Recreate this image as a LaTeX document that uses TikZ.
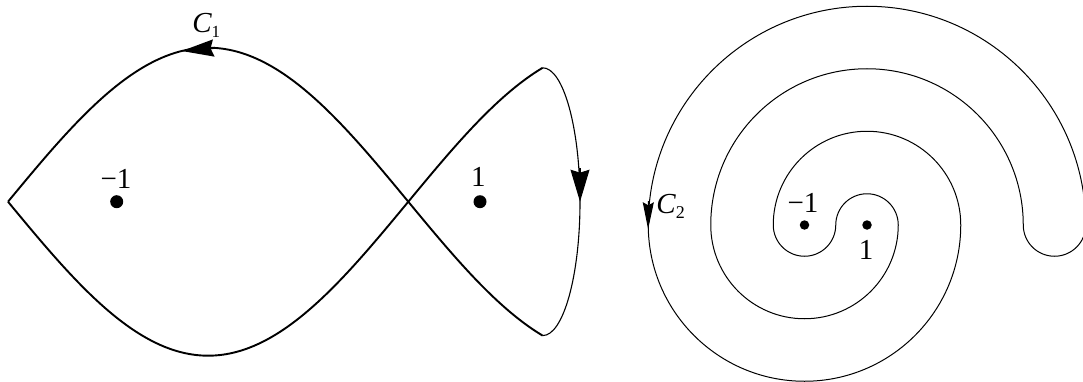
\documentclass[tikz,border=0pt]{standalone}
\usepackage{fontspec}
\setmainfont{Liberation Serif}
\usetikzlibrary{arrows.meta}
\begin{document}
\begin{tikzpicture}[x=1pt,y=1pt,
  thickline/.style={line width=1.9pt, line join=round},
  thinline/.style={line width=1.1pt},
  spiralline/.style={line width=1pt},
  bigtip/.style={-{Stealth[length=32pt,width=17pt,inset=3pt]}},
  righttip/.style={-{Stealth[length=32pt,width=19pt,inset=3pt]}},
  smalltip/.style={-{Stealth[length=27pt,width=11pt,inset=3pt]}},
  lbl/.style={inner sep=0pt, font=\fontsize{29}{29}\selectfont},
  bigdot/.style={circle, fill=black, inner sep=0pt, minimum size=13pt},
  smalldot/.style={circle, fill=black, inner sep=0pt, minimum size=9.5pt}]
\useasboundingbox (0,0) rectangle (1083,381);

% ---------- left figure C1 ----------
\draw[thickline, domain=8:542.7, samples=160, smooth]
  plot (\x, {179.3 + 154*sin((\x-8)*0.449663)});
\draw[thickline, domain=8:542.7, samples=160, smooth]
  plot (\x, {179.3 - 154*sin((\x-8)*0.449663)});
\draw[thinline] (542.7,313.2) arc[start angle=90, end angle=-90, x radius=37.3, y radius=133.9];

\coordinate (topA) at (215,333.1);
\coordinate (topB) at (181.7,330.0);
\draw[thickline, bigtip] (topA) -- (topB);
\coordinate (rA) at (580,213);
\coordinate (rB) at (580,179.3);
\draw[thinline, righttip] (rA) -- (rB);

\node[bigdot] (m1) at (116.7,179.3) {};
\node[bigdot] (p1) at (480,179.3) {};
\node[lbl, anchor=base] (m1l) at (116,192.5) {−1};
\node[lbl, anchor=base] (p1l) at (478.3,194.3) {1};
\node[lbl, anchor=base west] (c1) at (192.2,348) {\itshape C\raisebox{-4.3pt}{\upshape\fontsize{17}{17}\selectfont 1}};

% ---------- right figure C2 (spiral) ----------
\draw[spiralline] (835.75,156)
  arc[start angle=180, end angle=0, radius=31.25]
  arc[start angle=0, end angle=-180, radius=93.75]
  arc[start angle=180, end angle=0, radius=156.25]
  arc[start angle=180, end angle=360, radius=31.25]
  arc[start angle=0, end angle=180, radius=218.75]
  arc[start angle=180, end angle=360, radius=156.25]
  arc[start angle=0, end angle=180, radius=93.75]
  arc[start angle=180, end angle=360, radius=31.25];

\coordinate (sA) at (648.3,180);
\coordinate (sB) at (648.1,151.7);
\draw[spiralline, smalltip] (sA) -- (sB);

\node[smalldot] (m2) at (804.5,156) {};
\node[smalldot] (p2) at (867,156) {};
\node[lbl, anchor=base] (m2l) at (803,168.3) {−1};
\node[lbl, anchor=base] (p2l) at (866,121.7) {1};
\node[lbl, anchor=base west] (c2) at (656.2,167.7) {\itshape C\raisebox{-5pt}{\upshape\fontsize{18}{18}\selectfont 2}};
\end{tikzpicture}
\end{document}
